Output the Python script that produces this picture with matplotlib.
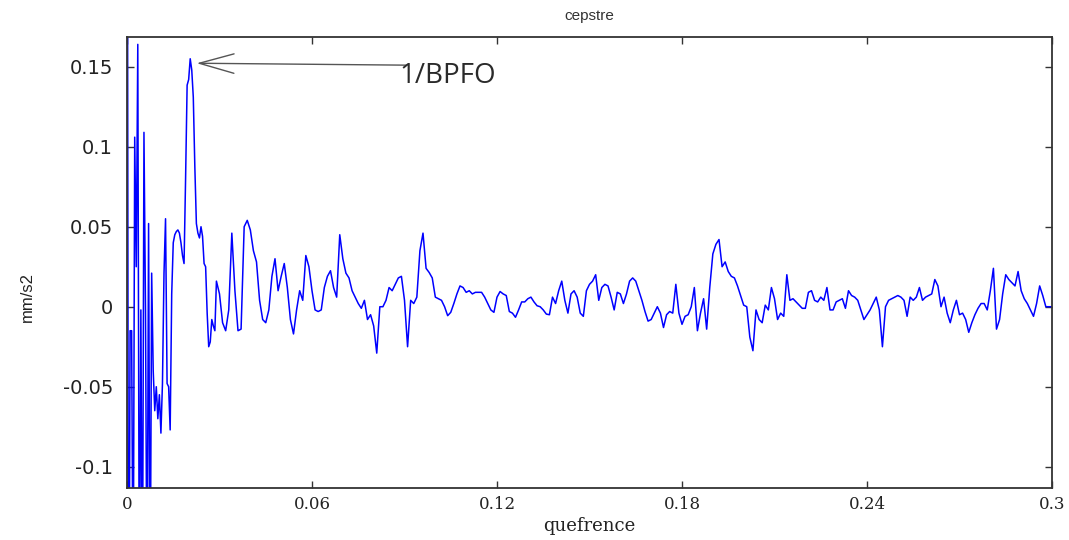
import numpy as np
import matplotlib
matplotlib.use("Agg")
import matplotlib.pyplot as plt

# ---- data ----
# first part sampled every 0.0005 s starting at 0
early_step = 0.0005
early_values = [
    0.50, -0.30, -0.015, -0.015, -0.20, 0.106, 0.025, 0.164, -0.20, -0.002,
    -0.20, 0.109, -0.002, -0.20, 0.052, -0.20, 0.021, -0.040, -0.065, -0.050,
    -0.070, -0.055, -0.079, -0.048, 0.021, 0.055, -0.048, -0.050, -0.077, 0.008,
    0.040, 0.045, 0.047, 0.048, 0.046, 0.040, 0.032, 0.027, 0.080, 0.1385,
    0.142, 0.155, 0.148, 0.131, 0.0875, 0.052, 0.046, 0.043, 0.050, 0.044,
    0.027, 0.025, -0.004, -0.025, -0.022, -0.008, -0.012, -0.015, 0.016, 0.012,
]
# second part sampled every 0.001 s starting at 0.030
late_start = 0.030
late_step = 0.001
late_values = [
    # 0.030 - 0.060
    0.008, -0.010, -0.015, -0.002, 0.046, 0.010, -0.015, -0.014, 0.050, 0.054,
    0.048, 0.035, 0.028, 0.004, -0.008, -0.010, -0.002, 0.019, 0.030, 0.010,
    0.019, 0.027, 0.012, -0.008, -0.017, -0.002, 0.010, 0.004, 0.032, 0.025,
    0.010,
    # 0.061 - 0.120
    -0.002, -0.003, -0.002, 0.012, 0.019, 0.0225, 0.012, 0.006, 0.045, 0.030,
    0.021, 0.018, 0.010, 0.006, 0.002, -0.001, 0.004, -0.008, -0.005, -0.012,
    -0.029, 0.000, 0.000, 0.004, 0.012, 0.010, 0.014, 0.018, 0.019, 0.004,
    -0.025, 0.004, 0.002, 0.006, 0.035, 0.046, 0.024, 0.0214, 0.018, 0.006,
    0.005, 0.004, 0.000, -0.0056, -0.0035, 0.002, 0.008, 0.013, 0.012, 0.009,
    0.010, 0.008, 0.009, 0.009, 0.009, 0.006, 0.002, -0.002, -0.0035, 0.006,
    # 0.121 - 0.182
    0.0095, 0.008, 0.007, -0.003, -0.004, -0.0066, -0.002, 0.003, 0.003, 0.005,
    0.006, 0.003, 0.0006, 0.000, -0.002, -0.0046, -0.005, 0.006, 0.002, 0.010,
    0.016, 0.004, -0.004, 0.008, 0.010, 0.006, -0.004, -0.006, 0.010, 0.014,
    0.016, 0.020, 0.004, 0.012, 0.014, 0.013, 0.006, -0.002, 0.009, 0.008,
    0.002, 0.008, 0.016, 0.018, 0.016, 0.010, 0.004, -0.003, -0.009, -0.008,
    -0.004, 0.000, -0.004, -0.013, -0.005, -0.003, -0.004, 0.014, -0.004, -0.011,
    -0.006, -0.005,
    # 0.183 - 0.242
    0.000, 0.012, -0.015, -0.004, 0.005, -0.014, 0.012, 0.033, 0.039, 0.042,
    0.025, 0.028, 0.022, 0.019, 0.018, 0.013, 0.007, 0.001, 0.000, -0.019,
    -0.0275, -0.002, -0.008, -0.010, 0.001, -0.002, 0.012, 0.005, -0.008, -0.004,
    -0.006, 0.020, 0.004, 0.005, 0.003, 0.001, -0.001, -0.001, 0.009, 0.010,
    0.004, 0.003, 0.006, 0.004, 0.012, -0.002, -0.002, 0.003, 0.004, 0.005,
    -0.001, 0.010, 0.007, 0.006, 0.004, -0.002, -0.008, -0.005, -0.002, 0.002,
    # 0.243 - 0.300
    0.006, -0.002, -0.025, 0.000, 0.004, 0.005, 0.006, 0.007, 0.006, 0.004,
    -0.006, 0.006, 0.004, 0.006, 0.012, 0.004, 0.006, 0.007, 0.008, 0.017,
    0.013, 0.000, 0.006, -0.004, -0.010, -0.002, 0.004, -0.005, -0.004, -0.008,
    -0.016, -0.010, -0.005, -0.001, 0.002, 0.002, -0.002, 0.010, 0.024, -0.014,
    -0.008, 0.008, 0.020, 0.017, 0.015, 0.013, 0.022, 0.010, 0.005, 0.002,
    -0.002, -0.006, 0.002, 0.013, 0.007, 0.000, 0.000, 0.000,
]

x_ticks = [0, 0.06, 0.12, 0.18, 0.24, 0.3]
x_tick_labels = ["0", "0.06", "0.12", "0.18", "0.24", "0.3"]
y_ticks = [-0.1, -0.05, 0, 0.05, 0.1, 0.15]
y_tick_labels = ["-0.1", "-0.05", "0", "0.05", "0.1", "0.15"]

q_early = early_step * np.arange(len(early_values))
q_late = late_start + late_step * np.arange(len(late_values))
quefrency = np.concatenate([q_early, q_late])
cepstrum = np.concatenate([early_values, late_values])

# ---- figure ----
fig = plt.figure(figsize=(10.69, 5.40), dpi=100)
ax = fig.add_axes([127 / 1069, 1 - 487.5 / 540, (1052 - 127) / 1069, (487.5 - 37) / 540])

ax.plot(quefrency, cepstrum, color=(0, 0, 1), lw=1.1)

ax.set_xlim(0, 0.3)
ax.set_ylim(-0.113, 0.1686)

ax.set_xticks(x_ticks)
ax.set_xticklabels(x_tick_labels, family="DejaVu Serif", fontsize=12, color="#222222")
ax.set_yticks(y_ticks)
ax.set_yticklabels(y_tick_labels, family="DejaVu Sans", fontsize=14, color="#222222")
ax.tick_params(direction="in", length=5, width=1, color="#333333",
               top=True, right=True)
ax.tick_params(axis="y", pad=10)
ax.tick_params(axis="x", pad=6)
for s in ax.spines.values():
    s.set_color("#333333")
    s.set_linewidth(1.3)

ax.set_title("cepstre", family="Liberation Sans", fontsize=11, color="#333333", pad=12)
ax.set_xlabel("quefrence", family="DejaVu Serif", fontsize=13, color="#222222")
ax.xaxis.set_label_coords(0.5, -0.066)
ax.set_ylabel("mm/s2", family="Liberation Sans", fontsize=12, color="#222222")
ax.yaxis.set_label_coords(-0.100, 0.423)

ax.annotate("", xy=(0.0226, 0.1522), xytext=(0.0907, 0.1510),
            arrowprops=dict(arrowstyle="->,head_length=1.25,head_width=0.35",
                            mutation_scale=20, color="#555555", lw=1.0,
                            shrinkA=0, shrinkB=0))
ax.text(0.0885, 0.1445, "1/BPFO", family="Open Sans", fontsize=20,
        color="#2a2a2a", va="center", ha="left")

fig.savefig("out.png", dpi=100, facecolor="white")
